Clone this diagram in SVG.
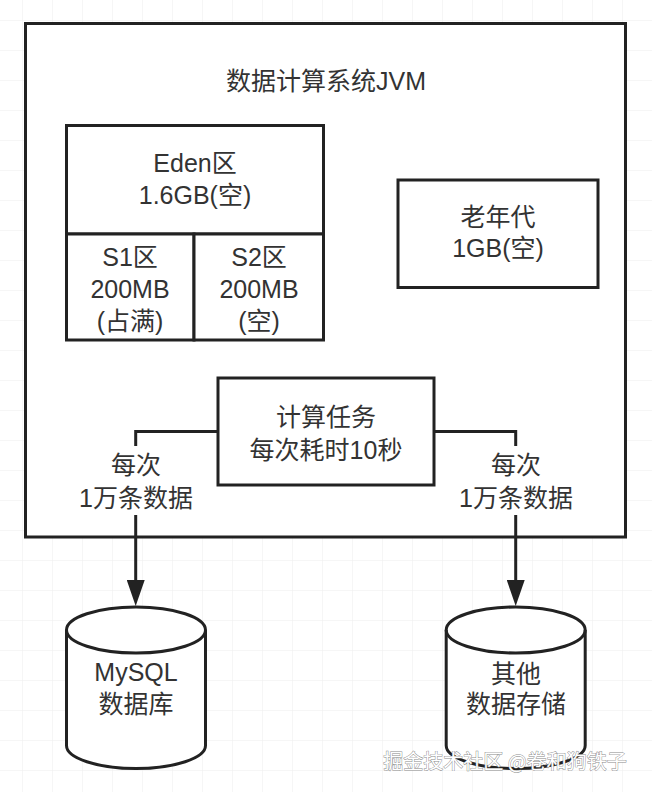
<svg xmlns="http://www.w3.org/2000/svg" width="652" height="792" viewBox="0 0 652 792">
  <defs>
    <pattern id="grid" x="22" y="20" width="30" height="30" patternUnits="userSpaceOnUse">
      <path d="M0,0 H30 M0,0 V30" fill="none" stroke="#ededed" stroke-width="1"/>
    </pattern>
    <marker id="arrow" viewBox="0 0 26 18" refX="16" refY="9" markerWidth="26" markerHeight="18" markerUnits="userSpaceOnUse" orient="auto">
      <path d="M0,0 L26,9 L0,18 Z" fill="#222"/>
    </marker>
  </defs>
  <style>
    .box { fill: #ffffff; stroke: #222222; stroke-width: 3; }
    .line { fill: none; stroke: #222222; stroke-width: 3; }
    .t { font-family: "Liberation Sans", "Noto Sans CJK SC", sans-serif; font-size: 25px; fill: #333333; text-anchor: middle; }
    .wm { font-family: "Noto Sans CJK SC", sans-serif; font-size: 20px; fill: #ffffff; stroke: #8a8a8a; stroke-width: 0.9; paint-order: stroke; text-anchor: middle; }
  </style>

  <rect x="0" y="0" width="652" height="792" fill="#ffffff"/>
  <rect x="0" y="0" width="652" height="792" fill="url(#grid)"/>

  <g id="jvm">
    <rect class="box" x="25.5" y="23.5" width="600" height="513.5"/>
    <text class="t" x="326" y="90">数据计算系统JVM</text>
  </g>

  <g id="eden">
    <rect class="box" x="66.5" y="125.5" width="257" height="108.5"/>
    <text class="t" x="195" y="172">Eden区</text>
    <text class="t" x="195" y="204">1.6GB(空)</text>
  </g>

  <g id="s1">
    <rect class="box" x="66.5" y="234" width="127.5" height="106"/>
    <text class="t" x="130" y="266">S1区</text>
    <text class="t" x="130" y="298">200MB</text>
    <text class="t" x="130" y="330">(占满)</text>
  </g>

  <g id="s2">
    <rect class="box" x="194" y="234" width="129.5" height="106"/>
    <text class="t" x="259" y="266">S2区</text>
    <text class="t" x="259" y="298">200MB</text>
    <text class="t" x="259" y="330">(空)</text>
  </g>

  <g id="old">
    <rect class="box" x="398" y="180" width="200" height="107.5"/>
    <text class="t" x="498" y="226">老年代</text>
    <text class="t" x="498" y="257">1GB(空)</text>
  </g>

  <g id="connectors">
    <path class="line" d="M218,431.5 H135.7 V446"/>
    <path class="line" d="M135.7,515 V596" marker-end="url(#arrow)"/>
    <path class="line" d="M434,431.5 H515.7 V446"/>
    <path class="line" d="M515.7,515 V596" marker-end="url(#arrow)"/>
    <text class="t" x="136" y="474">每次</text>
    <text class="t" x="136" y="507">1万条数据</text>
    <text class="t" x="516" y="474">每次</text>
    <text class="t" x="516" y="507">1万条数据</text>
  </g>

  <g id="task">
    <rect class="box" x="218" y="378" width="216" height="107"/>
    <text class="t" x="326" y="426">计算任务</text>
    <text class="t" x="326" y="459">每次耗时10秒</text>
  </g>

  <g id="mysql">
    <path class="box" d="M66.5,630 A69.5,23 0 0 1 205.5,630 V745.5 A69.5,23 0 0 1 66.5,745.5 Z"/>
    <path class="line" d="M66.5,630 A69.5,23 0 0 0 205.5,630"/>
    <text class="t" x="136" y="681">MySQL</text>
    <text class="t" x="136" y="713">数据库</text>
  </g>

  <g id="other">
    <path class="box" d="M446.2,630 A69.5,23 0 0 1 585.2,630 V745.5 A69.5,23 0 0 1 446.2,745.5 Z"/>
    <path class="line" d="M446.2,630 A69.5,23 0 0 0 585.2,630"/>
    <text class="t" x="516" y="683">其他</text>
    <text class="t" x="516" y="713">数据存储</text>
  </g>

  <text class="wm" x="505" y="769">掘金技术社区 @卷和狗铁子</text>
</svg>
